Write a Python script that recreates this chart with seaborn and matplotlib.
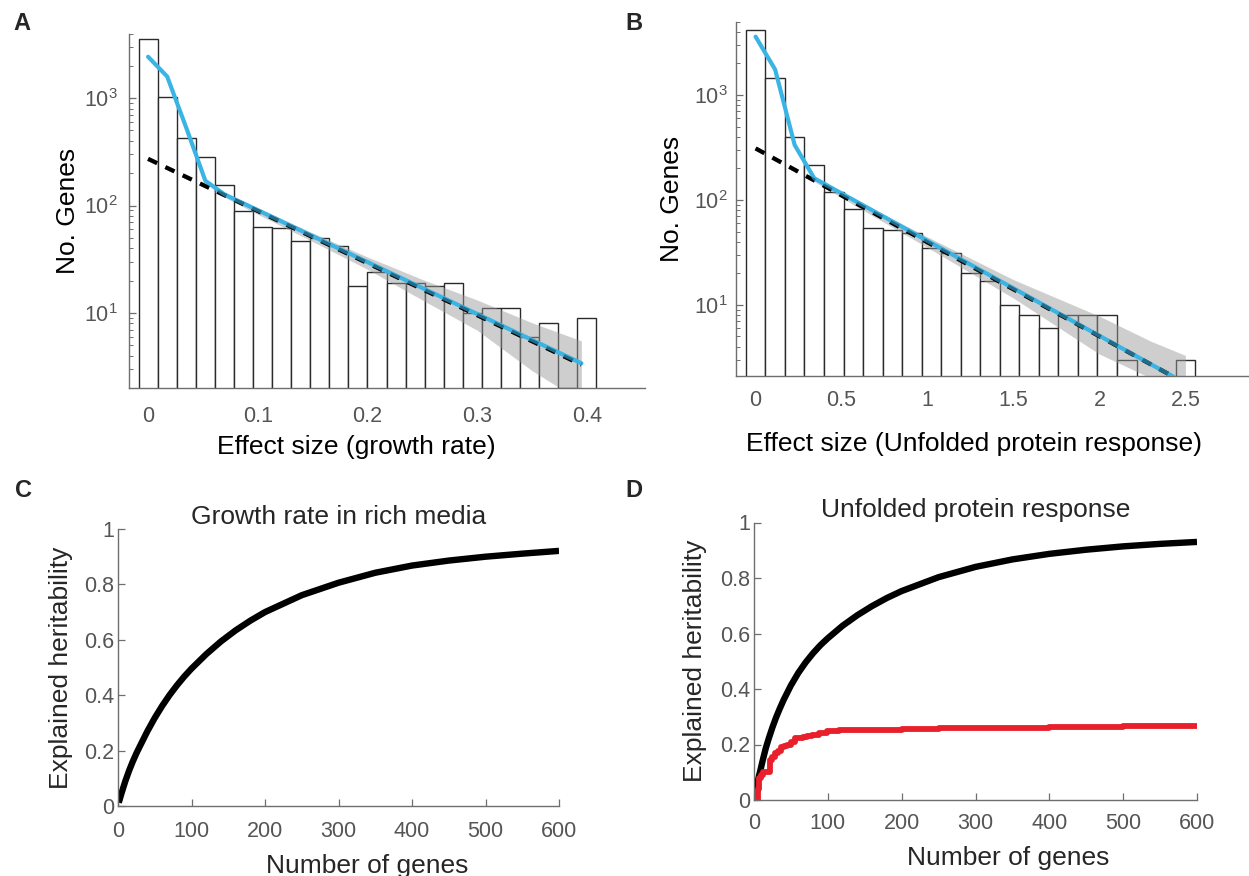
import numpy as np
import pandas as pd
import matplotlib
matplotlib.use("Agg")
import matplotlib.pyplot as plt
import matplotlib.ticker as mticker
import seaborn as sns

# ---------------- data ----------------
# Panel A: histogram of effect sizes (growth rate)
bin_width_A = 0.4 / 23
counts_A = [3530, 1030, 430, 281, 155, 89, 63, 62, 47, 50, 42, 18,
            24, 19, 19, 18, 19, 10, 11, 11, 6, 8, 2, 9]
fit_x_A = [0.0, 0.395]
fit_y_A = [272, 3.3]
model_x_A = [0.0, 0.0174, 0.0348, 0.0522, 0.0696, 0.395]
model_y_A = [2430, 1590, 530, 170, 127, 3.4]
band_x_A = [0.06, 0.10, 0.15, 0.20, 0.25, 0.30, 0.35, 0.395]
band_lo_A = [134, 82.8, 46.2, 25.5, 13.2, 6.9, 2.9, 1.5]
band_hi_A = [144, 95.1, 55.6, 33.2, 20.5, 13.2, 8.1, 5.5]
xticks_A = [0, 0.1, 0.2, 0.3, 0.4]
xticklabels_A = ["0", "0.1", "0.2", "0.3", "0.4"]

# Panel B: histogram of effect sizes (unfolded protein response)
bin_width_B = 2.5 / 22
counts_B = [4160, 1440, 400, 215, 120, 82, 54, 52, 48, 35, 31, 20,
            17, 10, 8, 6, 8, 8, 8, 3, 2, 1, 3]
fit_x_B = [0.0, 2.43]
fit_y_B = [310, 2.07]
model_x_B = [0.0, 0.1136, 0.2273, 0.3409, 2.43]
model_y_B = [3600, 1750, 334, 161, 2.07]
band_x_B = [0.34, 0.6, 1.0, 1.5, 2.0, 2.3, 2.5]
band_lo_B = [150, 84.2, 35.2, 11.6, 3.4, 2.0, 1.0]
band_hi_B = [158, 96.6, 44.4, 17.4, 7.8, 4.5, 3.3]
xticks_B = [0, 0.5, 1, 1.5, 2, 2.5]
xticklabels_B = ["0", "0.5", "1", "1.5", "2", "2.5"]

# Panel C: explained heritability, growth rate
genes_C = [1, 5, 10, 15, 20, 25, 30, 40, 50, 60, 70, 80, 90, 100, 120, 140,
           160, 180, 200, 250, 300, 350, 400, 450, 500, 550, 600]
herit_C = [0.012, 0.048, 0.09, 0.127, 0.16, 0.19, 0.217, 0.27, 0.318, 0.361,
           0.40, 0.435, 0.467, 0.496, 0.548, 0.594, 0.634, 0.669, 0.70, 0.761,
           0.806, 0.842, 0.868, 0.886, 0.90, 0.911, 0.921]

# Panel D: explained heritability, unfolded protein response
genes_D_black = [1, 4, 8, 12, 16, 20, 25, 30, 35, 40, 50, 60, 70, 80, 90, 100,
                 120, 140, 160, 180, 200, 250, 300, 350, 400, 450, 500, 550, 600]
herit_D_black = [0.025, 0.058, 0.10, 0.145, 0.187, 0.222, 0.262, 0.298, 0.33,
                 0.36, 0.413, 0.458, 0.496, 0.529, 0.558, 0.583, 0.628, 0.666,
                 0.699, 0.728, 0.753, 0.803, 0.84, 0.867, 0.887, 0.902, 0.914,
                 0.923, 0.93]
genes_D_red = [1, 3, 5, 7, 9, 12, 15, 19, 21, 24, 29, 33, 37, 41, 45, 50, 56,
               62, 67, 72, 78, 88, 99, 115, 130, 160, 200, 250, 300, 400, 500, 600]
herit_D_red = [0.025, 0.0, 0.04, 0.08, 0.09, 0.10, 0.10, 0.10, 0.144, 0.155,
               0.168, 0.178, 0.19, 0.195, 0.20, 0.21, 0.222, 0.225, 0.228,
               0.23, 0.234, 0.243, 0.25, 0.251, 0.252, 0.254, 0.256, 0.259,
               0.261, 0.263, 0.265, 0.267]
xticks_CD = [0, 100, 200, 300, 400, 500, 600]
yticks_CD = [0, 0.2, 0.4, 0.6, 0.8, 1]
yticklabels_CD = ["0", "0.2", "0.4", "0.6", "0.8", "1"]

# ---------------- style ----------------
sns.set_style("ticks")
plt.rcParams["font.family"] = ["Liberation Sans", "DejaVu Sans"]
plt.rcParams["mathtext.fontset"] = "custom"
plt.rcParams["mathtext.rm"] = "Liberation Sans"
plt.rcParams["mathtext.it"] = "Liberation Sans"

SPINE = "#6e6e6e"
TICKLAB = "#555555"
BLUE = "#3ab4e4"
RED = "#e8202b"
LAB_FS = 19
TICK_FS = 15.5

W, H = 1249, 876
fig = plt.figure(figsize=(W / 100, H / 100), dpi=100)


def add_ax(left, top, right, bottom):
    return fig.add_axes([left / W, 1 - bottom / H, (right - left) / W, (bottom - top) / H])


axA = add_ax(129, 33.5, 645, 388)
axB = add_ax(736, 21.7, 1249, 376)
axC = add_ax(118, 529, 559, 806)
axD = add_ax(754, 522.5, 1197, 800)


def style_axes(ax, xpad, ypad):
    sns.despine(ax=ax)
    for s in ("left", "bottom"):
        ax.spines[s].set_color(SPINE)
        ax.spines[s].set_linewidth(1.0)
    ax.tick_params(axis="both", which="major", direction="in", length=5, width=0.9,
                   color=SPINE, labelcolor=TICKLAB, labelsize=TICK_FS)
    ax.tick_params(axis="both", which="minor", direction="in", length=3, width=0.7,
                   color=SPINE)
    ax.tick_params(axis="x", pad=xpad)
    ax.tick_params(axis="y", pad=ypad)


def hist_panel(ax, counts, bw, fit_x, fit_y, mx, my, bx, blo, bhi, xlim, ylim,
               xticks, xticklabels, xlabel):
    n = len(counts)
    df = pd.DataFrame({"effect": np.arange(n) * bw, "count": np.asarray(counts, float)})
    edges = [float(e) for e in (np.arange(n + 1) * bw - bw / 2)]
    sns.histplot(data=df, x="effect", weights="count", bins=edges, ax=ax, stat="count",
                 color="white", edgecolor="#2a2a2a", linewidth=1.0, alpha=1.0,
                 zorder=1)
    ax.set_yscale("log")
    ax.fill_between(bx, blo, bhi, color="#9a9a9a", alpha=0.48, linewidth=0, zorder=2)
    dash = (0, (2.4, 2.2))
    sns.lineplot(x=fit_x, y=fit_y, ax=ax, color="black", linewidth=3.0,
                 linestyle=dash, sort=False, estimator=None, zorder=3)
    sns.lineplot(x=mx, y=my, ax=ax, color=BLUE, linewidth=3.0,
                 sort=False, estimator=None, zorder=4)
    sns.lineplot(x=fit_x, y=fit_y, ax=ax, color="black", linewidth=3.0, alpha=0.4,
                 linestyle=dash, sort=False, estimator=None, zorder=5)
    ax.set_xlim(*xlim)
    ax.set_ylim(*ylim)
    ax.set_xticks(xticks)
    ax.set_xticklabels(xticklabels)
    ax.yaxis.set_major_locator(mticker.LogLocator(base=10, numticks=10))
    ax.yaxis.set_minor_locator(mticker.LogLocator(base=10, subs=np.arange(2, 10), numticks=20))
    ax.yaxis.set_minor_formatter(mticker.NullFormatter())
    ax.set_ylabel("No. Genes", fontsize=LAB_FS, color="black")
    ax.set_xlabel(xlabel, fontsize=LAB_FS, color="black")


hist_panel(axA, counts_A, bin_width_A, fit_x_A, fit_y_A, model_x_A, model_y_A,
           band_x_A, band_lo_A, band_hi_A, (-0.0174, 0.453), (2, 4000),
           xticks_A, xticklabels_A, "Effect size (growth rate)")
style_axes(axA, 13, 8)
axA.yaxis.set_label_coords(-0.095, 0.5)
axA.xaxis.set_label_coords(0.441, -0.132)

hist_panel(axB, counts_B, bin_width_B, fit_x_B, fit_y_B, model_x_B, model_y_B,
           band_x_B, band_lo_B, band_hi_B, (-0.114, 2.87), (2.1, 5000),
           xticks_B, xticklabels_B, "Effect size (Unfolded protein response)")
style_axes(axB, 10, 6)
axB.yaxis.set_label_coords(-0.101, 0.5)
axB.xaxis.set_label_coords(0.464, -0.157)

# Panel C
sns.lineplot(x=genes_C, y=herit_C, ax=axC, color="black", linewidth=4.6,
             sort=False, estimator=None, solid_capstyle="butt")
axC.set_xlim(0, 600)
axC.set_ylim(0, 1)
axC.set_xticks(xticks_CD)
axC.set_yticks(yticks_CD)
axC.set_yticklabels(yticklabels_CD)
axC.set_title("Growth rate in rich media", fontsize=LAB_FS, pad=3)
axC.set_xlabel("Number of genes", fontsize=LAB_FS)
axC.set_ylabel("Explained heritability", fontsize=LAB_FS)
style_axes(axC, 10.5, 3)
axC.yaxis.set_label_coords(-0.102, 0.5)
axC.xaxis.set_label_coords(0.566, -0.172)

# Panel D
sns.lineplot(x=genes_D_black, y=herit_D_black, ax=axD, color="black", linewidth=4.6,
             sort=False, estimator=None, solid_capstyle="butt")
sns.lineplot(x=genes_D_red, y=herit_D_red, ax=axD, color=RED, linewidth=4.2,
             sort=False, estimator=None, drawstyle="steps-post", solid_capstyle="butt")
axD.set_xlim(0, 600)
axD.set_ylim(0, 1)
axD.set_xticks(xticks_CD)
axD.set_yticks(yticks_CD)
axD.set_yticklabels(yticklabels_CD)
axD.set_title("Unfolded protein response", fontsize=LAB_FS, pad=3)
axD.set_xlabel("Number of genes", fontsize=LAB_FS)
axD.set_ylabel("Explained heritability", fontsize=LAB_FS)
style_axes(axD, 9.5, 3)
axD.yaxis.set_label_coords(-0.106, 0.5)
axD.xaxis.set_label_coords(0.573, -0.164)

for lab, x, y in (("A", 22, 24), ("B", 634, 24), ("C", 23, 490), ("D", 634, 490)):
    fig.text(x / W, 1 - y / H, lab, fontsize=17, fontweight="bold",
             ha="center", va="center")

fig.savefig("out.png", dpi=100)
